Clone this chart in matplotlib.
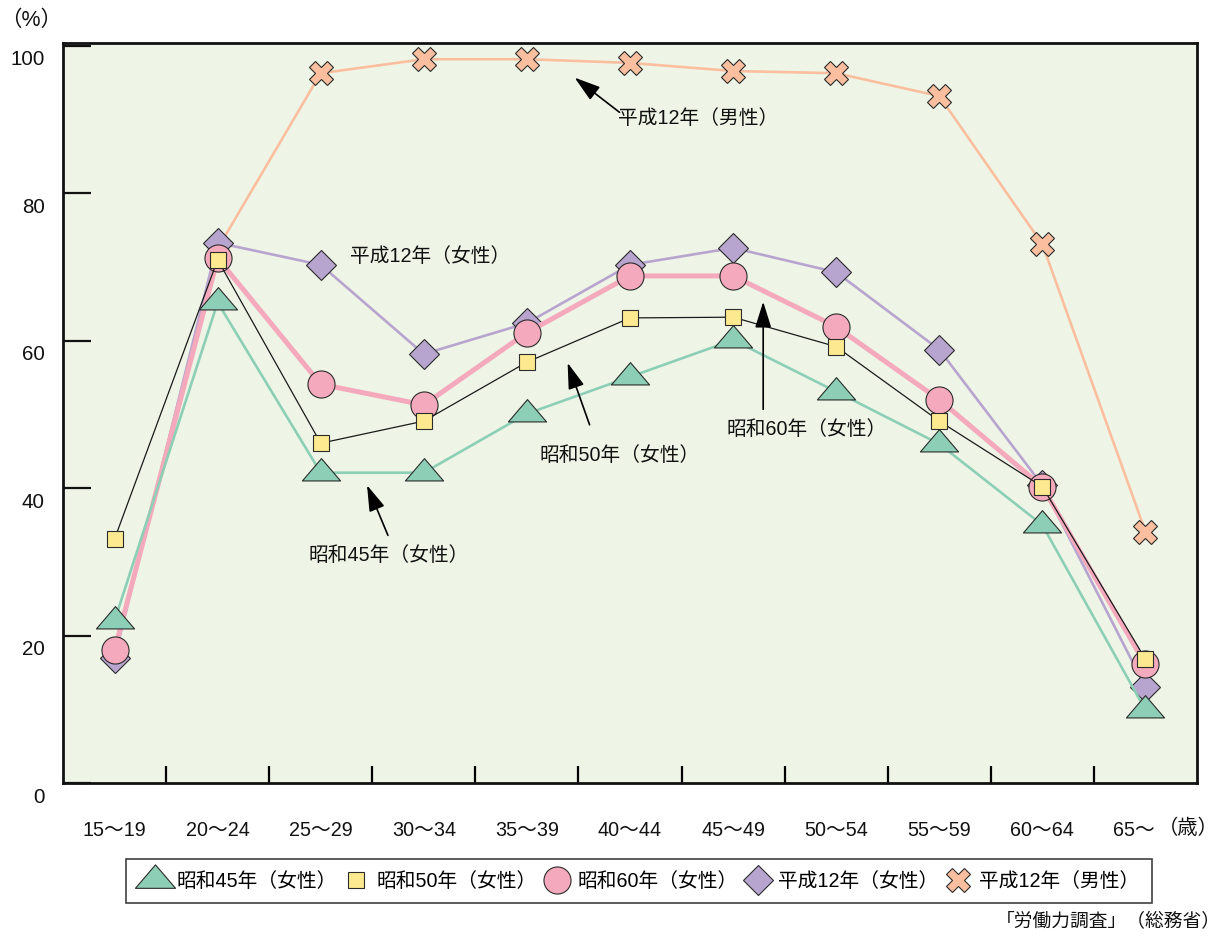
import matplotlib
matplotlib.use("Agg")
import matplotlib.pyplot as plt
import matplotlib.transforms as mtransforms
from matplotlib.path import Path
from matplotlib.lines import Line2D

plt.rcParams['font.family'] = ['Liberation Sans', 'Noto Sans CJK JP', 'DejaVu Sans']

# 年齢階級
age_groups = ["15～19", "20～24", "25～29", "30～34", "35～39", "40～44",
              "45～49", "50～54", "55～59", "60～64", "65～"]

# 労働力率（%）
s45_female = [22.0, 65.2, 42.1, 42.1, 50.1, 55.1, 60.1, 53.1, 46.0, 35.0, 9.9]
s50_female = [33.1, 71.0, 46.1, 49.1, 57.1, 63.1, 63.2, 59.2, 49.1, 40.2, 16.8]
s60_female = [18.0, 71.2, 54.1, 51.3, 61.1, 68.8, 68.8, 61.9, 52.0, 40.2, 16.1]
h12_female = [17.0, 73.3, 70.3, 58.2, 62.4, 70.3, 72.6, 69.3, 58.8, 40.4, 13.0]
h12_male = [18.0, 72.5, 96.3, 98.2, 98.2, 97.7, 96.6, 96.3, 93.2, 73.1, 34.1]

series_labels = ["昭和45年（女性）", "昭和50年（女性）", "昭和60年（女性）",
                 "平成12年（女性）", "平成12年（男性）"]

yticks = [0, 20, 40, 60, 80, 100]

FS = 14.2
INK = "#111111"

# triangle marker whose centroid sits on the data point
tri = Path([(-1, -0.39), (1, -0.39), (0, 0.78), (-1, -0.39)],
           [Path.MOVETO, Path.LINETO, Path.LINETO, Path.CLOSEPOLY])

edge = "#2b2b2b"
styles = [
    dict(color="#8ccfb6", lw=1.9, marker=tri, ms=27.5, mfc="#8ccfb6", z=6),
    dict(color="#1a1a1a", lw=0.9, marker="s", ms=11.5, mfc="#fde98f", z=5),
    dict(color="#f5a9bc", lw=3.6, marker="o", ms=19.5, mfc="#f5a9bc", z=4),
    dict(color="#b8a5cf", lw=1.9, marker="D", ms=15.5, mfc="#b8a5cf", z=3),
    dict(color="#fbbf9f", lw=1.9, marker="X", ms=17.5, mfc="#fbbf9f", z=2),
]

fig = plt.figure(figsize=(12.23, 9.38), dpi=100)
ax = fig.add_axes([63 / 1223, 1 - 783 / 938, (1197 - 63) / 1223, (783 - 43) / 938])
ax.set_facecolor("#eef5e6")

x = list(range(len(age_groups)))
all_series = [s45_female, s50_female, s60_female, h12_female, h12_male]
handles = []
for vals, st, lab in zip(all_series, styles, series_labels):
    markevery = slice(2, None) if lab == "平成12年（男性）" else None
    ax.plot(x, vals, color=st["color"], lw=st["lw"], marker=st["marker"],
            ms=st["ms"], mfc=st["mfc"], mec=edge, mew=0.8,
            markevery=markevery, zorder=st["z"], clip_on=False)
    handles.append(Line2D([], [], linestyle="none", marker=st["marker"],
                          ms=st["ms"] * (1.05 if st["marker"] is tri else 1.0),
                          mfc=st["mfc"], mec=edge, mew=0.8))

ax.set_xlim(-0.5, 10.5)
ax.set_ylim(0, 100.4)

for side in ["left", "bottom", "right", "top"]:
    ax.spines[side].set_linewidth(2.0)
    ax.spines[side].set_color(INK)

ax.set_yticks(yticks)
ax.set_yticklabels([str(v) for v in yticks])
ax.tick_params(axis="y", direction="in", length=20, width=1.6, pad=13,
               labelsize=FS + 0.6, colors=INK)
offset = mtransforms.ScaledTranslation(0, -12 / 100, fig.dpi_scale_trans)
for lbl in ax.get_yticklabels():
    lbl.set_transform(lbl.get_transform() + offset)

ax.set_xticks([i + 0.5 for i in range(len(age_groups) - 1)])
ax.set_xticklabels([])
ax.set_xticks(x, minor=True)
ax.set_xticklabels(age_groups, minor=True)
ax.tick_params(axis="x", which="major", direction="in", length=12, width=1.6)
ax.tick_params(axis="x", which="minor", length=0, pad=27, labelsize=FS,
               colors=INK)
# nudge the open-ended last age group left to leave room for the unit
last_lbl = ax.get_xticklabels(minor=True)[-1]
last_lbl.set_transform(last_lbl.get_transform()
                       + mtransforms.ScaledTranslation(-12 / 100, 0, fig.dpi_scale_trans))

ax.text(10.125, -6.1, "（歳）", fontsize=FS + 0.4, ha="left", va="center",
        color=INK, transform=ax.transData, clip_on=False)
fig.text(31 / 1223, 1 - 20 / 938, "（%）", fontsize=FS + 1.3, ha="center",
         va="center", color=INK)

# callouts: (text, text position, arrow tail, arrow head)
callouts = [
    ("昭和45年（女性）", (2.66, 30.9), (2.652, 33.6), (2.449, 40.4)),
    ("昭和50年（女性）", (4.90, 44.5), (4.608, 48.6), (4.395, 57.0)),
    ("昭和60年（女性）", (6.71, 47.9), (6.292, 50.7), (6.292, 65.3)),
    ("平成12年（男性）", (5.66, 90.2), (4.898, 91.0), (4.463, 95.7)),
]
for txt, tpos, tail, head in callouts:
    ax.text(tpos[0], tpos[1], txt, fontsize=FS, ha="center", va="center",
            color=INK, zorder=10)
    ax.annotate("", xy=head, xytext=tail,
                arrowprops=dict(arrowstyle="-|>,head_length=0.8,head_width=0.25",
                                mutation_scale=20, color="black", lw=1.2,
                                shrinkA=0, shrinkB=0), zorder=10)
ax.text(3.06, 71.4, "平成12年（女性）", fontsize=FS, ha="center",
        va="center", color=INK, zorder=10)

leg = fig.legend(handles, series_labels, loc="center",
                 bbox_to_anchor=(639 / 1223, 1 - 881 / 938), ncol=5,
                 fontsize=FS, frameon=True, fancybox=False,
                 edgecolor=INK, handlelength=1.7, handletextpad=0.2,
                 columnspacing=0.15, borderpad=0.62, borderaxespad=0)
leg.get_frame().set_linewidth(1.2)

fig.text(1221 / 1223, 1 - 922 / 938, "「労働力調査」（総務省）", fontsize=13.5,
         ha="right", va="center", color=INK)

fig.savefig("out.png", dpi=100, facecolor="white")
